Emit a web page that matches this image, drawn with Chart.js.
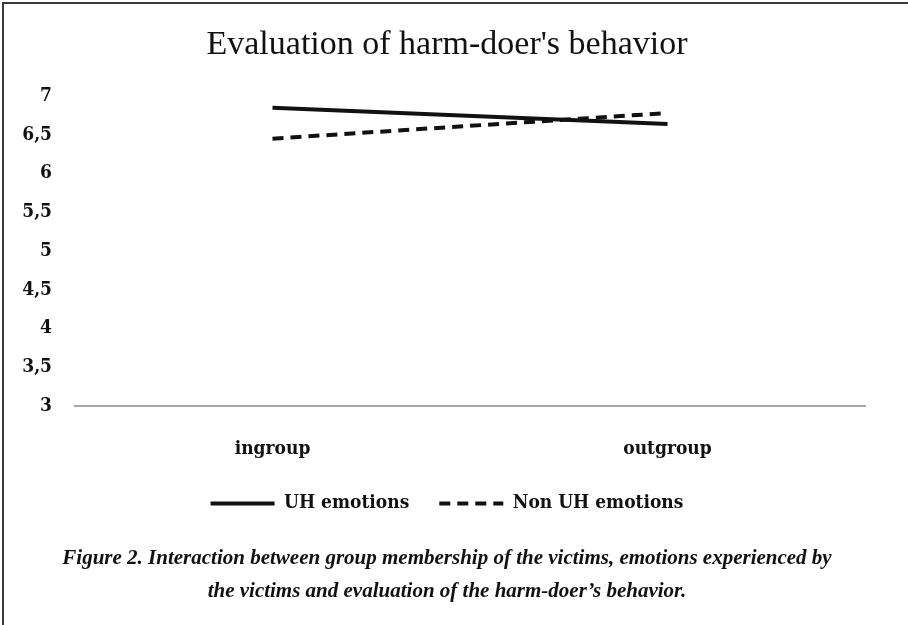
<!DOCTYPE html>
<html>
<head>
<meta charset="utf-8">
<script src="https://cdn.jsdelivr.net/npm/chart.js@4"></script>
<style>
  html, body { margin: 0; padding: 0; background: #fff; }
  #wrap { position: relative; width: 908px; height: 625px; }
  #frameTop { position: absolute; left: 2px; top: 2px; width: 906px; height: 2px; background: #3a3a3a; }
  #frameLeft { position: absolute; left: 2px; top: 2px; width: 2px; height: 623px; background: #3a3a3a; }
  canvas { position: absolute; left: 0; top: 0; }
</style>
</head>
<body>
<div id="wrap">
  <canvas id="chart" width="908" height="625"></canvas>
  <div id="frameTop"></div>
  <div id="frameLeft"></div>
</div>
<script>
const categories = ["ingroup", "outgroup"];
const uhValues = [6.85, 6.64];
const nonUhValues = [6.45, 6.78];
const yMin = 3;
const yMax = 7;
const yStep = 0.5;

const labelFont = { family: "'DejaVu Serif Condensed', 'Liberation Serif', serif", weight: "bold", size: 19 };

const ctx = document.getElementById("chart").getContext("2d");
new Chart(ctx, {
  type: "line",
  data: {
    labels: categories,
    datasets: [
      {
        label: "UH emotions",
        data: uhValues,
        borderColor: "#111",
        backgroundColor: "#111",
        borderWidth: 4,
        pointRadius: 0,
        tension: 0,
      },
      {
        label: "Non UH emotions",
        data: nonUhValues,
        borderColor: "#111",
        backgroundColor: "#111",
        borderWidth: 4,
        borderDash: [11, 7],
        pointRadius: 0,
        tension: 0,
      },
    ],
  },
  options: {
    responsive: false,
    animation: false,
    layout: { padding: { left: 0, right: 14, top: 0, bottom: 0 } },
    scales: {
      x: {
        offset: true,
        grid: { display: false },
        border: { display: true, color: "#a6a6a6", width: 2 },
        ticks: { color: "#111", font: labelFont, padding: 24 },
        afterFit: (scale) => { scale.height = 58; },
      },
      y: {
        min: yMin,
        max: yMax,
        grid: { display: false },
        border: { display: false },
        ticks: {
          stepSize: yStep,
          color: "#111",
          font: labelFont,
          padding: 15,
          callback: (v) => String(v).replace(".", ","),
        },
        afterFit: (scale) => { scale.width = 75; },
      },
      // empty right-hand spacer so the title and legend centre like the reference
      y2: {
        position: "right",
        grid: { display: false },
        border: { display: false },
        ticks: { display: false },
        afterFit: (scale) => { scale.width = 29; },
      },
    },
    plugins: {
      title: {
        display: true,
        text: "Evaluation of harm-doer's behavior",
        color: "#111",
        font: { family: "'Liberation Serif', serif", size: 34, weight: "normal" },
        padding: { top: 24.6, bottom: 30.6 },
      },
      legend: {
        position: "bottom",
        labels: {
          color: "#111",
          font: labelFont,
          usePointStyle: true,
          pointStyle: "line",
          pointStyleWidth: 64,
          boxWidth: 64,
          padding: 30,
          generateLabels: (chart) => {
            const items = Chart.defaults.plugins.legend.labels.generateLabels(chart);
            items.forEach((item) => {
              const ds = chart.data.datasets[item.datasetIndex];
              item.lineDash = ds.borderDash || [];
              item.lineWidth = 4;
              item.strokeStyle = ds.borderColor;
            });
            return items;
          },
        },
      },
      subtitle: {
        display: true,
        position: "bottom",
        text: [
          "Figure 2. Interaction between group membership of the victims, emotions experienced by",
          "the victims and evaluation of the harm-doer\u2019s behavior.",
        ],
        color: "#111",
        font: { family: "'Liberation Serif', serif", size: 21, weight: "bold", style: "italic", lineHeight: 1.57 },
        padding: { top: 19.5, bottom: 16.5 },
      },
      tooltip: { enabled: false },
    },
  },
});
</script>
</body>
</html>
